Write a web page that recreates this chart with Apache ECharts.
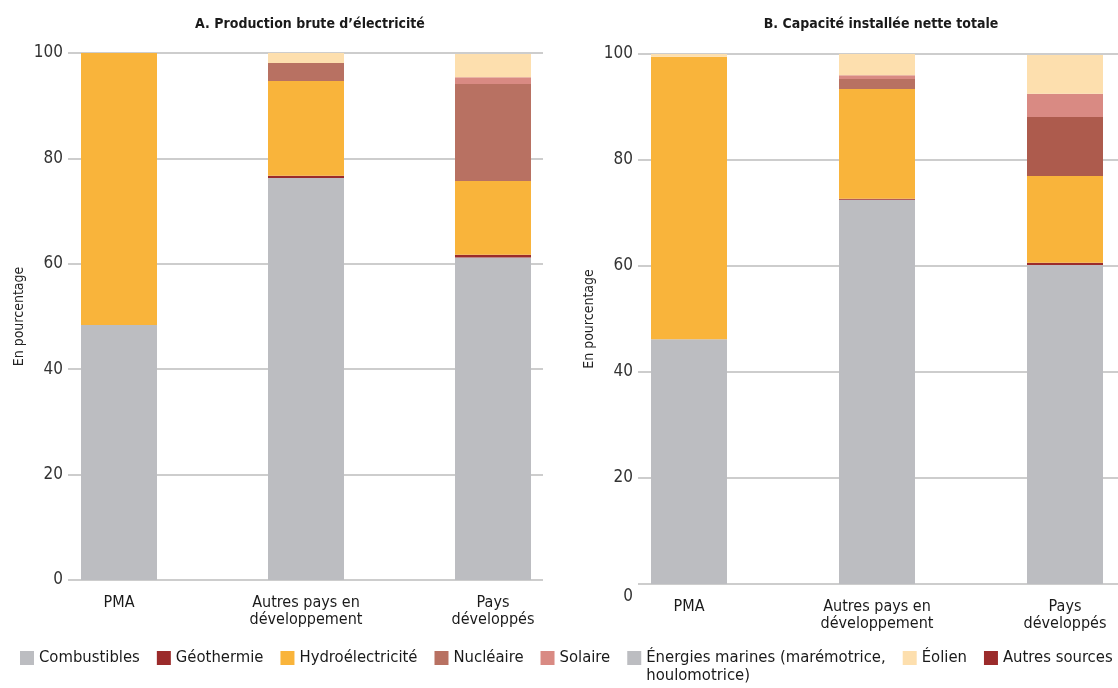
<!DOCTYPE html>
<html>
<head>
<meta charset="utf-8">
<script src="https://cdn.jsdelivr.net/npm/echarts@6/dist/echarts.min.js"></script>
<style>
  html, body { margin: 0; padding: 0; background: #ffffff; }
  #chart { width: 1118px; height: 688px; }
</style>
</head>
<body>
<div id="chart"></div>
<script>
// Groupes de pays
const categories = ['PMA', 'Autres pays en\ndéveloppement', 'Pays\ndéveloppés'];
const yTicks = [0, 20, 40, 60, 80, 100];

// Sources d'énergie (ordre d'empilement, du bas vers le haut)
const sources = ['Combustibles', 'Géothermie', 'Hydroélectricité', 'Nucléaire', 'Solaire',
  'Énergies marines (marémotrice,\nhoulomotrice)', 'Éolien', 'Autres sources'];

// A. Production brute d'électricité (%)
const prodCombustibles = [48.4, 76.3, 61.2];
const prodGeothermie   = [0, 0.4, 0.5];
const prodHydro        = [51.6, 18.0, 14.0];
const prodNucleaire    = [0, 3.4, 18.4];
const prodSolaire      = [0, 0, 1.3];
const prodMarines      = [0, 0, 0];
const prodEolien       = [0, 1.9, 4.4];
const prodAutres       = [0, 0, 0];

// B. Capacité installée nette totale (%)
const capCombustibles = [46.2, 72.5, 60.2];
const capGeothermie   = [0, 0.2, 0.4];
const capHydro        = [53.3, 20.7, 16.4];
const capNucleaire    = [0, 1.9, 11.1];
const capSolaire      = [0, 0.7, 4.4];
const capMarines      = [0, 0, 0];
const capEolien       = [0.5, 4.0, 7.3];
const capAutres       = [0, 0, 0];

const prodSeries = [prodCombustibles, prodGeothermie, prodHydro, prodNucleaire,
  prodSolaire, prodMarines, prodEolien, prodAutres];
const capSeries = [capCombustibles, capGeothermie, capHydro, capNucleaire,
  capSolaire, capMarines, capEolien, capAutres];

const colors = ['#bcbdc1', '#9b2b2b', '#f9b43b', '#b87162', '#d98a83', '#bcbdc1', '#fddfae', '#9b2b2b'];

const FONT = "'Liberation Sans Narrow', 'DejaVu Sans Condensed', 'Liberation Sans', sans-serif";
const gridColor = '#bdbdbd';

// Each panel: one grid carrying the value axis and gridlines, one carrying the bars
// (bar grid spans first to last category centre, boundaryGap off)
const panels = [
  { title: 'A. Production brute d\u2019électricité', titleX: 305, data: prodSeries,
    axisGrid: { left: 68, top: 53, width: 475, height: 527 },
    barGrid: { left: 119, top: 53, width: 374, height: 527 }, zeroShift: 0,
    shade: {} },
  { title: 'B. Capacité installée nette totale', titleX: 876, data: capSeries,
    axisGrid: { left: 638, top: 54, width: 480, height: 530 },
    barGrid: { left: 689, top: 54, width: 376, height: 530 }, zeroShift: 26,
    // darker nuclear block for developed countries
    shade: { 3: { 2: '#ad5b4d' } } }
];

const grids = [], xAxes = [], yAxes = [], series = [], titles = [];

panels.forEach((p, i) => {
  const gAxis = grids.length;
  grids.push(Object.assign({ containLabel: false }, p.axisGrid));
  const gBar = grids.length;
  grids.push(Object.assign({ containLabel: false }, p.barGrid));

  titles.push({
    text: p.title, left: p.titleX, top: 12, textAlign: 'center',
    textStyle: { fontFamily: FONT, fontWeight: 'bold', fontSize: 14, color: '#1a1a1a' }
  });

  // value axis + gridlines
  xAxes.push({ gridIndex: gAxis, type: 'value', min: 0, max: 1, show: false });
  yAxes.push({
    gridIndex: gAxis, type: 'value', min: 0, max: 100, interval: 20,
    name: 'En pourcentage', nameLocation: 'middle', nameRotate: 90, nameGap: 42,
    nameTextStyle: { fontFamily: FONT, fontSize: 14, color: '#222' },
    axisLine: { show: false }, axisTick: { show: false },
    splitLine: { show: true, lineStyle: { color: gridColor, width: 1.5 } },
    axisLabel: {
      fontFamily: FONT, fontSize: 17, color: '#333', margin: 5,
      formatter: v => (v === 0 && p.zeroShift) ? '{z|0}' : String(v),
      rich: { z: { fontFamily: FONT, fontSize: 17, color: '#333', padding: [p.zeroShift, 0, 0, 0] } }
    }
  });

  // category axis for bars
  xAxes.push({
    gridIndex: gBar, type: 'category', data: categories, boundaryGap: false,
    axisLine: { show: false }, axisTick: { show: false }, splitLine: { show: false },
    axisLabel: { fontFamily: FONT, fontSize: 16, color: '#1a1a1a', margin: 14, lineHeight: 17, interval: 0 }
  });
  yAxes.push({ gridIndex: gBar, type: 'value', min: 0, max: 100, show: false });
  const barIdx = xAxes.length - 1;

  sources.forEach((name, k) => {
    const over = p.shade[k] || {};
    series.push({
      name, type: 'bar', stack: 'panel' + i,
      xAxisIndex: barIdx, yAxisIndex: barIdx,
      barWidth: 76, clip: false,
      data: p.data[k].map((v, j) => over[j] ? { value: v, itemStyle: { color: over[j] } } : v),
      itemStyle: { color: colors[k] },
      emphasis: { disabled: true }
    });
  });
});

const chart = echarts.init(document.getElementById('chart'), null, { renderer: 'canvas' });
chart.setOption({
  animation: false,
  backgroundColor: '#ffffff',
  title: titles,
  grid: grids,
  xAxis: xAxes,
  yAxis: yAxes,
  legend: {
    data: sources,
    left: 20, top: 631, padding: 0,
    itemWidth: 14, itemHeight: 14, itemGap: 17,
    icon: 'rect',
    selectedMode: false,
    // two-line entry: blank first line keeps the label's first line level with its square
    formatter: name => name.indexOf('\n') >= 0 ? '\n' + name : name,
    textStyle: { fontFamily: FONT, fontSize: 16.5, color: '#1a1a1a', lineHeight: 18 }
  },
  series
});
</script>
</body>
</html>
